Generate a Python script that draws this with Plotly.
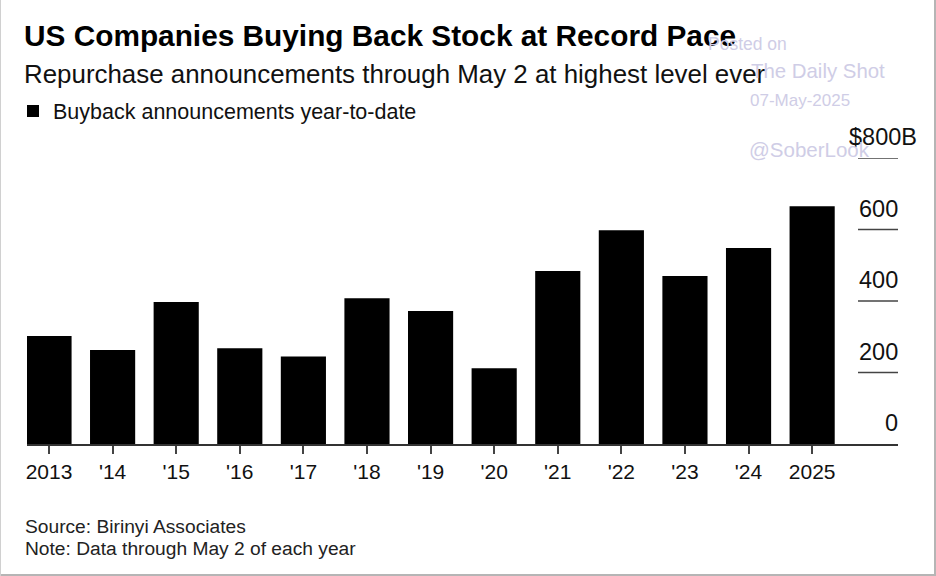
# Buyback announcements bar chart
import plotly.graph_objects as go

years = ['2013', "'14", "'15", "'16", "'17", "'18", "'19", "'20", "'21", "'22", "'23", "'24", '2025']
buybacks = [302, 263, 397, 268, 245, 408, 372, 212, 484, 598, 470, 548, 665]
y_ticks = [0, 200, 400, 600, 800]
y_labels = ['0', '200', '400', '600', '$800B']

title = 'US Companies Buying Back Stock at Record Pace'
subtitle = 'Repurchase announcements through May 2 at highest level ever'
series_name = 'Buyback announcements year-to-date'
source = 'Source: Birinyi Associates'
note = 'Note: Data through May 2 of each year'

W, H = 936, 576
LEFT, RIGHT, TOP, BOTTOM = 27, 898, 158, 444
FONT = 'Liberation Sans'
WM = '#cfcde6'


# page pixels to plot-area fractions
def px(x):
    return (x - LEFT) / (RIGHT - LEFT)


def py(y):
    return (BOTTOM - y) / (BOTTOM - TOP)


fig = go.Figure()
fig.add_trace(go.Bar(x=years, y=buybacks, name=series_name, marker_color='#000000',
                     marker_line_width=0, width=0.71, showlegend=True))

fig.update_layout(
    width=W, height=H,
    margin=dict(l=LEFT, r=W - RIGHT, t=TOP, b=H - BOTTOM, pad=0, autoexpand=False),
    paper_bgcolor='white', plot_bgcolor='white',
    font=dict(family=FONT, size=19, color='#111111'),
    showlegend=True,
    legend=dict(x=13 / W, y=1 - 111 / H, xref='container', yref='container', xanchor='left', yanchor='middle',
                bgcolor='rgba(0,0,0,0)', font=dict(size=21.5, color='#111111'),
                itemclick=False, itemdoubleclick=False),
    xaxis=dict(type='category', categoryorder='array', categoryarray=years,
               range=[-0.346, 13.35], showgrid=False, zeroline=False, showline=True,
               linecolor='#333333', linewidth=2, ticks='outside', ticklen=8, tickwidth=1.5,
               tickcolor='#444444', tickangle=0, tickfont=dict(size=21, color='#111111')),
    yaxis=dict(range=[0, 800], tickvals=y_ticks, showticklabels=False, showgrid=False,
               zeroline=False, showline=False, ticks=''),
)

# short rules with the value sitting on top, right side of the plot
for val, lab in zip(y_ticks, y_labels):
    if val > 0:
        fig.add_shape(type='line', xref='paper', yref='y', x0=px(858), x1=1,
                      y0=val, y1=val, line=dict(color='#444444', width=1.5))
    # the $800B label hangs past the end of its rule
    fig.add_annotation(xref='paper', yref='y', x=1, y=val, text=lab, showarrow=False,
                       xanchor='right', yanchor='bottom', yshift=6,
                       xshift=21 if val == 800 else 2,
                       font=dict(size=23.5, color='#111111'))

fig.add_annotation(xref='paper', yref='paper', x=px(22), y=py(35), text=f'<b>{title}</b>', showarrow=False,
                   xanchor='left', yanchor='middle', font=dict(size=29.8, color='#000000'))
fig.add_annotation(xref='paper', yref='paper', x=px(22), y=py(74), text=subtitle, showarrow=False,
                   xanchor='left', yanchor='middle', font=dict(size=25.9, color='#111111'))
fig.add_annotation(xref='paper', yref='paper', x=px(23), y=py(526), text=source, showarrow=False,
                   xanchor='left', yanchor='middle', font=dict(size=19.2, color='#222222'))
fig.add_annotation(xref='paper', yref='paper', x=px(23), y=py(548), text=note, showarrow=False,
                   xanchor='left', yanchor='middle', font=dict(size=19.2, color='#222222'))

# watermark
for txt, xp, yp, size in [('Posted on', 706, 44, 17.5), ('The Daily Shot', 749, 71, 20.4),
                          ('07-May-2025', 748, 100, 17), ('@SoberLook', 747, 149, 20.5)]:
    fig.add_annotation(xref='paper', yref='paper', x=px(xp), y=py(yp), text=txt, showarrow=False,
                       xanchor='left', yanchor='middle', font=dict(size=size, color=WM))

# frame of the screenshot
fig.add_shape(type='line', xref='paper', yref='paper', x0=px(935), x1=px(935), y0=py(0), y1=py(576),
              line=dict(color='#b5b5b5', width=2))
fig.add_shape(type='line', xref='paper', yref='paper', x0=px(0), x1=px(936), y0=py(575), y1=py(575),
              line=dict(color='#b5b5b5', width=2))
fig.add_shape(type='line', xref='paper', yref='paper', x0=px(0), x1=px(0), y0=py(0), y1=py(576),
              line=dict(color='#d0d0d0', width=2))

fig.write_html("out.html", config={'displayModeBar': False},
               post_script="document.body.style.margin='0';")
